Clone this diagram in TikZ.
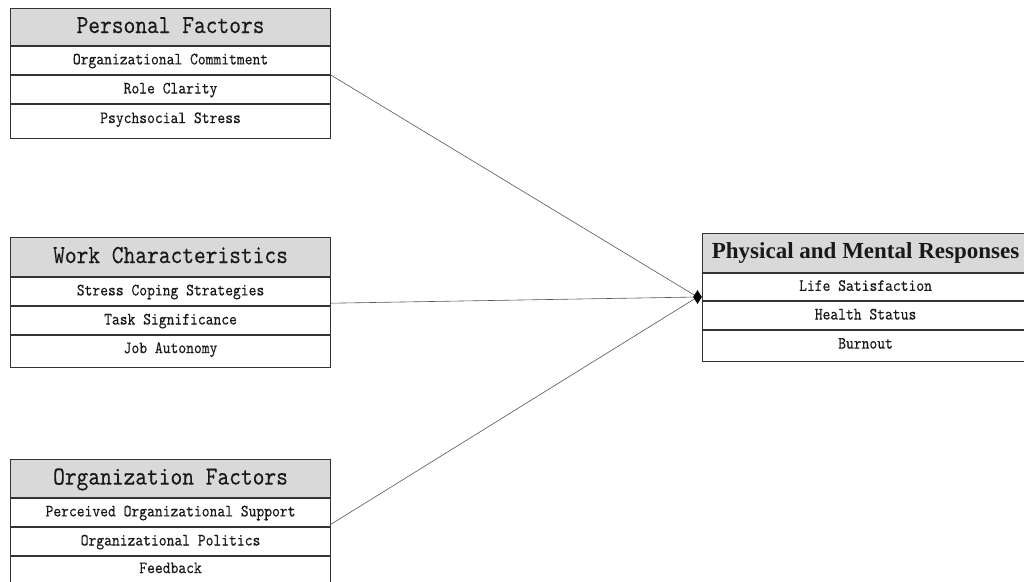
\documentclass[tikz,border=0pt]{standalone}
\usepackage{fontspec}
\newfontfamily\monoF[Extension=.otf, FakeStretch=0.86, FakeBold=0.25]{lmmono10-regular}
\newfontfamily\serifF{Liberation Serif}
\usetikzlibrary{shapes.geometric}
\definecolor{headgray}{HTML}{D9D9D9}
\definecolor{boxline}{HTML}{333333}
\definecolor{connline}{HTML}{555555}
\begin{document}
\begin{tikzpicture}[x=1pt,y=-1pt,
  cell/.style={draw=boxline, line width=1.1pt, anchor=north west, inner sep=0pt,
    minimum width=320pt, minimum height=28pt, text=black!90,
    font=\monoF\fontsize{17.3}{20}\selectfont, text height=10.5pt, text depth=3pt},
  lastcell/.style={cell, minimum height=33pt, text depth=8pt},
  head/.style={cell, fill=headgray, minimum height=38pt,
    font=\monoF\fontsize{26}{30}\selectfont, text height=16pt, text depth=4pt},
  boldhead/.style={head, font=\serifF\bfseries\fontsize{23}{26}\selectfont, text height=15pt},
  conn/.style={draw=connline, line width=0.6pt}]
\useasboundingbox (0,0) rectangle (1024,581);
\clip (0,0) rectangle (1024,581);

% Personal Factors
\node[head, minimum height=37pt] (pt) at (10,8) {Personal Factors};
\node[cell] (p1) at (pt.south west) {Organizational Commitment};
\node[cell] (p2) at (p1.south west) {Role Clarity};
\node[lastcell, minimum height=34pt] (p3) at (p2.south west) {Psychsocial Stress};

% Work Characteristics
\node[head, minimum height=39pt] (wt) at (10,237) {Work Characteristics};
\node[cell] (w1) at (wt.south west) {Stress Coping Strategies};
\node[cell] (w2) at (w1.south west) {Task Significance};
\node[lastcell, minimum height=32pt] (w3) at (w2.south west) {Job Autonomy};

% Organization Factors
\node[head] (ot) at (10,459) {Organization Factors};
\node[cell] (o1) at (ot.south west) {Perceived Organizational Support};
\node[cell] (o2) at (o1.south west) {Organizational Politics};
\node[lastcell, minimum height=40pt, text depth=18pt] (o3) at (o2.south west) {Feedback};

% Physical and Mental Responses
\node[boldhead, minimum width=326pt, minimum height=39pt] (rt) at (702,233) {Physical and Mental Responses};
\node[cell, minimum width=326pt, minimum height=27pt] (r1) at (rt.south west) {Life Satisfaction};
\node[cell, minimum width=326pt] (r2) at (r1.south west) {Health Status};
\node[lastcell, minimum width=326pt, minimum height=31pt, text depth=6pt] (r3) at (r2.south west) {Burnout};

% connectors
\coordinate (hub) at (697.5,297);
\draw[conn] (p1.south east) -- (hub);
\draw[conn] ([yshift=3pt]w1.south east) -- (hub);
\draw[conn] ([yshift=3pt]o1.south east) -- (hub);
\node[diamond, fill=black, draw=none, minimum width=9pt, minimum height=14pt, inner sep=0pt] (tip) at (hub) {};
\end{tikzpicture}
\end{document}
